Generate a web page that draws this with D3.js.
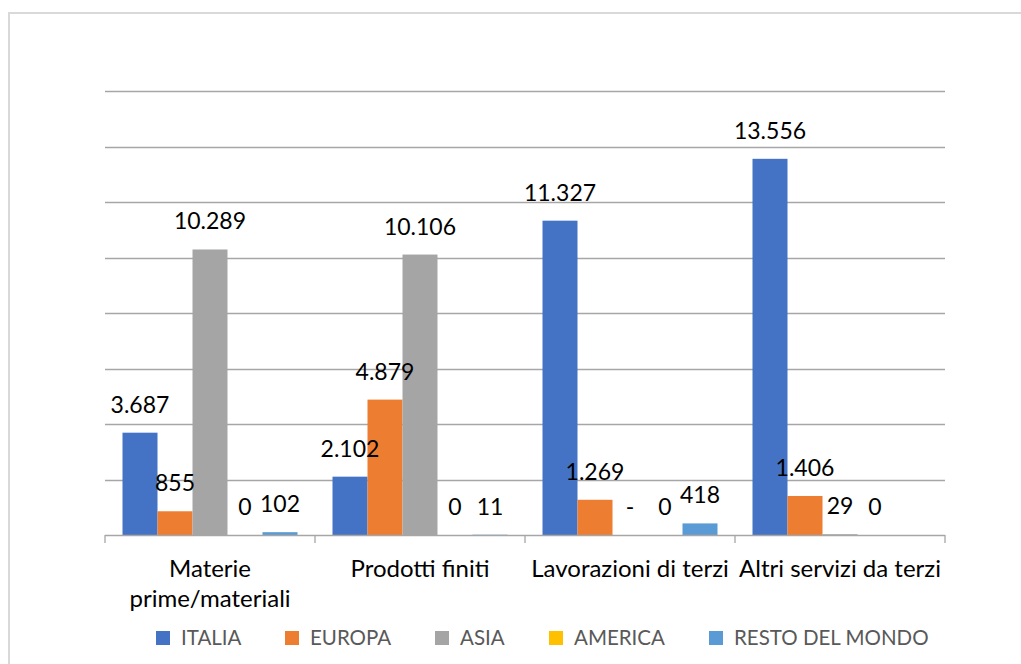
<!DOCTYPE html>
<html>
<head>
<meta charset="utf-8">
<script src="https://cdn.jsdelivr.net/npm/d3@7"></script>
<style>
  html, body { margin: 0; padding: 0; background: #fff; }
  svg { display: block; }
</style>
</head>
<body>
<svg id="chart" width="1021" height="664"></svg>
<script>
// ---- Data ----
const categories = ["Materie prime/materiali", "Prodotti finiti", "Lavorazioni di terzi", "Altri servizi da terzi"];
const seriesNames = ["ITALIA", "EUROPA", "ASIA", "AMERICA", "RESTO DEL MONDO"];
const italia  = [3687, 2102, 11327, 13556];
const europa  = [855, 4879, 1269, 1406];
const asia    = [10289, 10106, 0, 29];
const america = [0, 0, 0, 0];
const resto   = [102, 11, 418, null];
// cells whose zero value is shown as a dash: [seriesIndex, categoryIndex]
const dashCells = [[2, 2]];
const seriesColors = ["#4472C4", "#ED7D31", "#A5A5A5", "#FFC000", "#5B9BD5"];
const yTicks = [0, 2000, 4000, 6000, 8000, 10000, 12000, 14000, 16000];

const seriesValues = [italia, europa, asia, america, resto];

// ---- Layout ----
const svg = d3.select("#chart");
const plot = { left: 105, right: 945, top: 91, bottom: 535 };
const font = "Lato, 'Open Sans', sans-serif";

// chart border (left + top visible)
svg.append("path")
  .attr("d", "M9,670 L9,13 L1030,13")
  .attr("fill", "none").attr("stroke", "#D9D9D9").attr("stroke-width", 2);

const x0 = d3.scaleBand().domain(categories).range([plot.left, plot.right]).paddingInner(0).paddingOuter(0);
const x1 = d3.scaleBand().domain(seriesNames).range([0, x0.bandwidth()]).paddingInner(0).paddingOuter(0.5);
const y = d3.scaleLinear().domain([0, 16000]).range([plot.bottom, plot.top]);

// gridlines
svg.append("g").selectAll("line").data(yTicks.slice(1)).join("line")
  .attr("x1", plot.left).attr("x2", plot.right)
  .attr("y1", d => Math.round(y(d)) + 0.5).attr("y2", d => Math.round(y(d)) + 0.5)
  .attr("stroke", "#A6A6A6").attr("stroke-width", 1.3);

// bars
const groups = svg.append("g").selectAll("g").data(categories).join("g")
  .attr("transform", c => `translate(${x0(c)},0)`);

groups.each(function(c, ci) {
  const g = d3.select(this);
  seriesNames.forEach((s, si) => {
    const v = seriesValues[si][ci];
    if (v === null) return;
    if (v > 0) {
      g.append("rect")
        .attr("x", x1(s)).attr("width", x1.bandwidth())
        .attr("y", y(v)).attr("height", y(0) - y(v))
        .attr("fill", seriesColors[si]);
    }
  });
});

// x axis baseline + ticks
const xAxis = svg.append("g");
xAxis.append("line").attr("x1", plot.left).attr("x2", plot.right)
  .attr("y1", plot.bottom + 0.5).attr("y2", plot.bottom + 0.5)
  .attr("stroke", "#A6A6A6").attr("stroke-width", 1.3);
const tickXs = categories.map(c => x0(c)).concat([plot.right]);
xAxis.selectAll("line.tick").data(tickXs).join("line").attr("class", "tick")
  .attr("x1", d => d).attr("x2", d => d)
  .attr("y1", plot.bottom).attr("y2", plot.bottom + 8)
  .attr("stroke", "#A6A6A6").attr("stroke-width", 1.3);

// data labels
const fmt = d3.formatLocale({ decimal: ",", thousands: ".", grouping: [3], currency: ["€", ""] }).format(",d");
groups.each(function(c, ci) {
  const g = d3.select(this);
  seriesNames.forEach((s, si) => {
    const v = seriesValues[si][ci];
    if (v === null) return;
    const isDash = dashCells.some(d => d[0] === si && d[1] === ci);
    g.append("text")
      .attr("x", x1(s) + x1.bandwidth() / 2)
      .attr("y", y(v) - 20)
      .attr("text-anchor", "middle")
      .attr("font-family", font).attr("font-size", 23)
      .attr("fill", "#000")
      .text(isDash ? "-" : fmt(v));
  });
});

// category labels with wrapping
const catG = svg.append("g");
categories.forEach(c => {
  const t = catG.append("text")
    .attr("x", x0(c) + x0.bandwidth() / 2)
    .attr("y", 577)
    .attr("text-anchor", "middle")
    .attr("font-family", font).attr("font-size", 24)
    .attr("fill", "#000");
  const words = c.split(" ");
  let line = [];
  let tspan = t.append("tspan").attr("x", x0(c) + x0.bandwidth() / 2).attr("dy", 0);
  words.forEach(w => {
    line.push(w);
    tspan.text(line.join(" "));
    if (tspan.node().getComputedTextLength() > x0.bandwidth() && line.length > 1) {
      line.pop();
      tspan.text(line.join(" "));
      line = [w];
      tspan = t.append("tspan").attr("x", x0(c) + x0.bandwidth() / 2).attr("dy", 30).text(w);
    }
  });
});

// legend
const legendX = [156, 285, 435, 549, 709];
const legend = svg.append("g");
seriesNames.forEach((s, i) => {
  legend.append("rect").attr("x", legendX[i]).attr("y", 631).attr("width", 14).attr("height", 14)
    .attr("fill", seriesColors[i]);
  legend.append("text").attr("x", legendX[i] + 25).attr("y", 645)
    .attr("font-family", font).attr("font-size", 20.5)
    .attr("fill", "#595959").text(s);
});
</script>
</body>
</html>
